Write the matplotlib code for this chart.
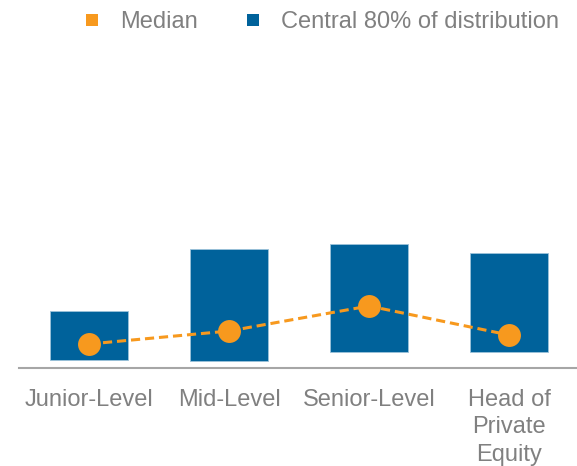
import matplotlib
matplotlib.use("Agg")
import matplotlib.pyplot as plt
from matplotlib.lines import Line2D

plt.rcParams["font.family"] = ["Liberation Sans", "DejaVu Sans"]

# Compensation ranges by role (central 80% band and median)
categories = ["Junior-Level", "Mid-Level", "Senior-Level", "Head of\nPrivate\nEquity"]
p10 = [16, 15, 32, 32]
p90 = [114, 238, 248, 230]
median = [48, 74, 124, 66]

BLUE = "#00629B"
ORANGE = "#F7991E"
GREY = "#808080"

fig = plt.figure(figsize=(5.77, 4.66), dpi=100)
ax = fig.add_axes([19 / 577, 98 / 466, 560 / 577, 300 / 466])

x = list(range(len(categories)))
heights = [hi - lo for lo, hi in zip(p10, p90)]
ax.bar(x, heights, bottom=p10, width=0.557, color=BLUE,
       edgecolor="#9CC3DA", linewidth=0.6, zorder=2)
ax.plot(x, median, color=ORANGE, linestyle=(0, (3, 1.6)), linewidth=2.2,
        marker="o", markersize=16.5, markeredgewidth=0, zorder=3)

ax.set_xlim(-0.5, 3.5)
ax.set_ylim(0, 600)
ax.set_xticks(x)
ax.set_xticklabels(categories, fontsize=17, color=GREY, linespacing=1.32)
ax.tick_params(axis="x", length=0, pad=15)
ax.set_yticks([])
for side in ("top", "right", "left"):
    ax.spines[side].set_visible(False)
ax.spines["bottom"].set_color("#A6A6A6")
ax.spines["bottom"].set_linewidth(1.5)

handles = [
    Line2D([], [], linestyle="none", marker="s", markersize=8,
           markerfacecolor=ORANGE, markeredgewidth=0, label="Median"),
    Line2D([], [], linestyle="none", marker="s", markersize=8,
           markerfacecolor=BLUE, markeredgewidth=0,
           label="Central 80% of distribution"),
]
fig.legend(handles=handles, loc="upper left", bbox_to_anchor=(86 / 577, 1 - 11 / 466),
           ncol=2, frameon=False, fontsize=17, labelcolor=GREY,
           handlelength=0.5, handletextpad=0.95, columnspacing=2.08,
           borderpad=0, borderaxespad=0)

fig.savefig("out.png", dpi=100)
